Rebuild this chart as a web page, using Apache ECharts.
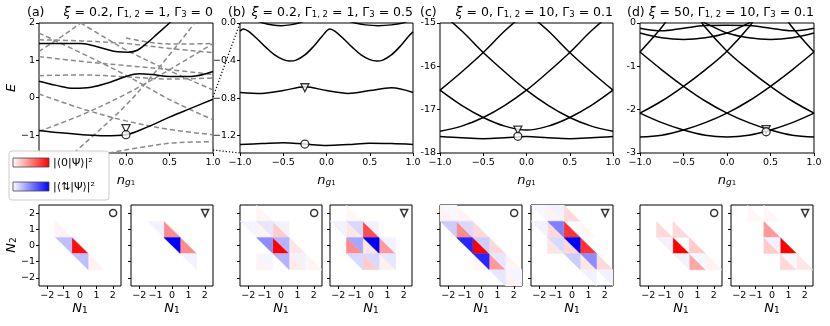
<!DOCTYPE html>
<html>
<head>
<meta charset="utf-8">
<script src="https://cdn.jsdelivr.net/npm/echarts@6/dist/echarts.min.js"></script>
<style>
  html, body { margin: 0; padding: 0; background: #fff; }
  #chart { width: 830px; height: 326px; }
</style>
</head>
<body>
<div id="chart"></div>
<script>
// ---- top row: energy bands vs n_g1 ----
// (a) xi=0.2, G12=1, G3=0 : solid = coupled bands, dashed = bare levels
const solidA = [
  [[-1, 1.45], [-0.75, 1.45], [-0.52, 1.45], [-0.25, 1.31], [-0.1, 1.23], [0.03, 1.22], [0.13, 1.27], [0.25, 1.48], [0.36, 1.71], [0.5, 2.0], [0.55, 2.12]],
  [[-1, 0.44], [-0.8, 0.33], [-0.6, 0.25], [-0.4, 0.28], [-0.2, 0.4], [0, 0.57], [0.15, 0.64], [0.3, 0.62], [0.5, 0.57], [0.75, 0.57], [1, 0.7]],
  [[-1, -0.875], [-0.75, -0.94], [-0.5, -0.99], [-0.25, -1.02], [0, -0.99], [0.25, -0.78], [0.5, -0.52], [0.75, -0.28], [1, -0.04]]
];
const dashedA = [
  [[-1, 1.24], [-0.75, 1.62], [-0.52, 2.0], [-0.4, 2.2]],
  [[-0.52, 2.0], [-0.25, 1.62], [0, 1.28], [0.5, 0.72], [1, 0.21]],
  [[-1, 1.73], [-0.5, 1.18], [0, 0.6], [0.5, -0.05], [1, -0.59]],
  [[-1, 0.1], [-0.5, -0.3], [0, -0.62], [0.5, -0.85], [1, -0.99]],
  [[-1, -0.9], [-0.5, -0.45], [0, 0.1], [0.5, 0.75], [1, 1.45]],
  [[-1, 0.59], [-0.5, 0.61], [0, 0.56], [0.5, 0.5], [1, 0.53]],
  [[-1, 1.1], [-0.5, 0.97], [0, 0.86], [0.5, 0.75], [1, 0.62]],
  [[-0.6, -1.48], [-0.25, -0.75], [0, -0.2], [0.25, 0.45], [0.5, 1.15], [0.7, 1.73], [0.8, 2.05]],
  [[0, 1.6], [0.25, 1.49], [0.5, 1.44], [0.75, 1.44], [1, 1.45]],
  [[-1, 1.55], [-0.5, 1.52], [0, 1.45], [0.5, 1.32], [1, 1.21]],
  [[-0.2, -1.48], [0.25, -1.3], [0.6, -1.2], [1, -1.18]]
];
// (b) xi=0.2, G12=1, G3=0.5
const solidB = [
  [[-1, 0.12], [-0.85, 0.04], [-0.73, 0], [-0.62, -0.022], [-0.52, -0.028], [-0.42, -0.02], [-0.32, 0], [-0.2, 0.04], [0, 0.1], [0.2, 0.04], [0.33, 0], [0.45, -0.02], [0.6, -0.028], [0.75, -0.02], [0.88, 0], [1, 0.04]],
  [[-1, -0.088], [-0.96, -0.064], [-0.9, -0.09], [-0.8, -0.17], [-0.7, -0.26], [-0.6, -0.34], [-0.5, -0.39], [-0.43, -0.405], [-0.35, -0.395], [-0.25, -0.34], [-0.15, -0.25], [-0.05, -0.14], [0.04, -0.064], [0.1, -0.09], [0.2, -0.17], [0.3, -0.26], [0.4, -0.34], [0.5, -0.39], [0.58, -0.405], [0.65, -0.395], [0.75, -0.34], [0.85, -0.25], [0.95, -0.14], [1, -0.095]],
  [[-1, -0.74], [-0.75, -0.75], [-0.5, -0.72], [-0.25, -0.68], [0, -0.72], [0.25, -0.75], [0.5, -0.72], [0.75, -0.69], [1, -0.74]],
  [[-1, -1.295], [-0.75, -1.285], [-0.5, -1.275], [-0.25, -1.29], [0, -1.305], [0.25, -1.295], [0.5, -1.28], [0.75, -1.285], [1, -1.295]]
];
// (c) xi=0, G12=10, G3=0.1
const solidC = [
  [[-1, -17.5], [-0.75, -17.38], [-0.5, -17.18], [-0.25, -16.9], [0, -16.55], [0.25, -16.13], [0.5, -15.68], [0.75, -15.18], [1, -14.75]],
  [[-1, -14.75], [-0.75, -15.18], [-0.5, -15.68], [-0.25, -16.13], [0, -16.55], [0.25, -16.9], [0.5, -17.18], [0.75, -17.38], [1, -17.5]],
  [[-1, -16.55], [-0.75, -16.9], [-0.5, -17.18], [-0.25, -17.38], [0, -17.47], [0.25, -17.38], [0.5, -17.18], [0.75, -16.9], [1, -16.55]],
  [[-1, -16.55], [-0.75, -16.13], [-0.5, -15.68], [-0.25, -15.18], [0, -14.75]],
  [[0, -14.75], [0.25, -15.18], [0.5, -15.68], [0.75, -16.13], [1, -16.55]],
  [[-1, -17.62], [-0.75, -17.65], [-0.5, -17.67], [-0.25, -17.65], [0, -17.62], [0.25, -17.65], [0.5, -17.67], [0.75, -17.65], [1, -17.62]]
];
// (d) xi=50, G12=10, G3=0.1
const solidD = [
  [[-1, -2.63], [-0.75, -2.59], [-0.5, -2.47], [-0.25, -2.3], [0, -2.08], [0.25, -1.8], [0.5, -1.46], [0.75, -1.08], [1, -0.67]],
  [[-1, -0.67], [-0.75, -1.08], [-0.5, -1.46], [-0.25, -1.8], [0, -2.08], [0.25, -2.3], [0.5, -2.47], [0.75, -2.59], [1, -2.63]],
  [[-1, -2.08], [-0.75, -2.3], [-0.5, -2.47], [-0.25, -2.59], [0, -2.63], [0.25, -2.59], [0.5, -2.47], [0.75, -2.3], [1, -2.08]],
  [[-1, -2.08], [-0.75, -1.8], [-0.5, -1.46], [-0.25, -1.08], [0, -0.65], [0.25, -0.1], [0.35, 0.2]],
  [[-0.35, 0.2], [-0.25, -0.1], [0, -0.65], [0.25, -1.08], [0.5, -1.46], [0.75, -1.8], [1, -2.08]],
  [[-1, -0.67], [-0.75, -0.1], [-0.65, 0.2]],
  [[0.65, 0.2], [0.75, -0.1], [1, -0.67]],
  [[-1, -0.23], [-0.75, -0.34], [-0.5, -0.38], [-0.25, -0.34], [0, -0.23], [0.2, -0.05], [0.3, 0.05]],
  [[-0.3, 0.05], [-0.2, -0.05], [0, -0.23], [0.25, -0.34], [0.5, -0.38], [0.75, -0.34], [1, -0.23]],
  [[-1, -0.12], [-0.75, -0.18], [-0.5, -0.12], [-0.25, -0.06], [0, -0.05], [0.25, -0.06], [0.5, -0.12], [0.75, -0.18], [1, -0.12]]
];
// highlighted states: circle = ground, triangle = first excited
const circlePts = [[0, -0.99], [-0.25, -1.29], [-0.1, -17.615], [0.45, -2.51]];
const trianglePts = [[0, -0.83], [-0.25, -0.69], [-0.1, -17.47], [0.45, -2.46]];

const xTicks = [-1, -0.5, 0, 0.5, 1];
const yTicks = [[-1, 0, 1, 2], [-1.2, -0.8, -0.4, 0], [-18, -17, -16, -15], [-3, -2, -1, 0]];
const yRanges = [[-1.48, 2], [-1.385, 0], [-18, -15], [-3, 0]];

// ---- bottom row: weights on charge grid (N1, N2, value) ----
// red = |<0|Psi>|^2 (lower-left half of cell), blue = |<updown|Psi>|^2 (upper-right half)
const redA_o = [[0, 0, 0.95], [-1, 1, 0.05], [1, -1, 0.05]];
const blueA_o = [[-1, 0, 0.25], [0, -1, 0.25]];
const redA_t = [[0, 1, 0.45], [1, 0, 0.45]];
const blueA_t = [[0, 0, 1.0], [-1, 1, 0.05], [1, -1, 0.05]];
const redB_o = [[0, 0, 1.0], [0, 1, 0.2], [1, 0, 0.1], [-1, 1, 0.05], [1, -1, 0.08], [-1, -1, 0.05], [-1, 2, 0.04], [2, -1, 0.04]];
const blueB_o = [[-1, 0, 0.45], [0, 0, 0.3], [0, -1, 0.3], [-1, 1, 0.1], [-2, 1, 0.04], [1, -1, 0.05], [0, 1, 0.05], [-1, -1, 0.04]];
const redB_t = [[0, 1, 0.7], [-1, 0, 0.45], [1, 0, 0.4], [0, -1, 0.2], [-1, 1, 0.1], [0, 0, 0.1], [1, -1, 0.06], [-1, 2, 0.03]];
const blueB_t = [[0, 0, 1.0], [-1, 0, 0.35], [-1, 1, 0.15], [0, -1, 0.15], [-1, -1, 0.15], [1, -1, 0.1], [-2, 1, 0.05], [0, 1, 0.05], [1, 0, 0.05]];
const redC_o = [[0, 0, 1.0], [-1, 1, 0.45], [1, -1, 0.4], [0, 1, 0.15], [1, 0, 0.15], [-2, 2, 0.05], [-1, 2, 0.05], [2, -2, 0.05], [2, -1, 0.04], [0, -1, 0.03]];
const blueC_o = [[-1, 0, 0.85], [0, -1, 0.85], [-1, 1, 0.15], [-2, 1, 0.2], [0, 0, 0.2], [1, -1, 0.1], [1, -2, 0.1], [-2, 2, 0.03], [2, -2, 0.04]];
const redC_t = [[0, 1, 0.8], [1, 0, 0.8], [-1, 1, 0.15], [0, 0, 0.15], [-1, 0, 0.1], [0, 2, 0.15], [1, -1, 0.1], [2, -1, 0.15], [-1, 2, 0.05], [1, 1, 0.03]];
const blueC_t = [[0, 0, 1.0], [-1, 1, 0.5], [1, -1, 0.45], [-1, 0, 0.15], [0, -1, 0.2], [-2, 1, 0.05], [-1, 2, 0.05], [2, -2, 0.05], [1, -2, 0.05], [-2, 2, 0.03]];
const redD_o = [[0, 0, 1.0], [-1, 1, 0.15], [0, 1, 0.15], [1, 0, 0.2], [1, -1, 0.35], [2, -1, 0.05]];
const blueD_o = [[0, -1, 0.05], [-1, 0, 0.05], [1, -1, 0.03]];
const redD_t = [[1, 0, 1.0], [0, 1, 0.4], [0, 0, 0.2], [1, -1, 0.15], [2, -1, 0.1], [-1, 2, 0.03], [0, 2, 0.03]];
const blueD_t = [[0, 0, 0.05], [1, -1, 0.03]];
const heatPanels = [
  [redA_o, blueA_o], [redA_t, blueA_t], [redB_o, blueB_o], [redB_t, blueB_t],
  [redC_o, blueC_o], [redC_t, blueC_t], [redD_o, blueD_o], [redD_t, blueD_t]
];
const nTicks = [-2, -1, 0, 1, 2];
const cornerMark = [2.02, 2.0];

// ---- layout ----
const topLefts = [39, 240, 440, 640];
const topWidths = [174, 173, 173, 174];
const botLefts = [39, 131, 240, 330, 440, 531, 640, 731];
const FONT = 'DejaVu Sans';
const minus = '\u2212';

function fmt(v, dec, m) {
  const s = Math.abs(v).toFixed(dec);
  return (v < -1e-9 ? m : '') + s;
}

const grids = [], xAxes = [], yAxes = [], series = [];
const yDec = [0, 1, 0, 0];
const yMinus = [minus, minus, '-', '-'];

const subRich = {
  i: { fontFamily: FONT, fontStyle: 'italic', fontSize: 13, color: '#000' },
  s: { fontFamily: FONT, fontStyle: 'italic', fontSize: 9, color: '#000', verticalAlign: 'bottom', lineHeight: 8 },
  ss: { fontFamily: FONT, fontSize: 7, color: '#000', verticalAlign: 'bottom', lineHeight: 4 },
  n: { fontFamily: FONT, fontSize: 9, color: '#000', verticalAlign: 'bottom', lineHeight: 8 }
};
const noLine = { show: false, onZero: false };

for (let i = 0; i < 4; i++) {
  grids.push({ left: topLefts[i], top: 23, width: topWidths[i], height: 130, show: true, borderColor: '#000', borderWidth: 1, backgroundColor: 'transparent' });
  xAxes.push({
    type: 'value', gridIndex: i, min: -1, max: 1,
    axisLine: noLine,
    axisTick: { show: true, length: 3, lineStyle: { color: '#000' }, customValues: xTicks },
    axisLabel: { customValues: xTicks, formatter: v => fmt(v, 1, minus), fontFamily: FONT, fontSize: 9.5, color: '#000', margin: 5 },
    splitLine: { show: false },
    name: '{i|n}{s|g}{ss|1}', nameLocation: 'middle', nameGap: 21,
    nameTextStyle: { rich: subRich, fontSize: 13 }
  });
  yAxes.push({
    type: 'value', gridIndex: i, min: yRanges[i][0], max: yRanges[i][1],
    axisLine: noLine,
    axisTick: { show: true, length: 3, lineStyle: { color: '#000' }, customValues: yTicks[i] },
    axisLabel: { customValues: yTicks[i], formatter: v => fmt(v, yDec[i], yMinus[i]), fontFamily: FONT, fontSize: 9.5, color: '#000', margin: 4 },
    splitLine: { show: false }
  });
}

for (let k = 0; k < 8; k++) {
  const gi = 4 + k;
  grids.push({ left: botLefts[k], top: 205, width: 82, height: 81, show: true, borderColor: '#000', borderWidth: 1, backgroundColor: 'transparent' });
  xAxes.push({
    type: 'value', gridIndex: gi, min: -2.5, max: 2.5,
    axisLine: noLine,
    axisTick: { show: true, length: 3, lineStyle: { color: '#000' }, customValues: nTicks },
    axisLabel: { customValues: nTicks, formatter: v => fmt(v, 0, minus), fontFamily: FONT, fontSize: 9.5, color: '#000', margin: 5 },
    splitLine: { show: false },
    name: '{i|N}{n|1}', nameLocation: 'middle', nameGap: 16,
    nameTextStyle: { rich: subRich, fontSize: 13 }
  });
  yAxes.push({
    type: 'value', gridIndex: gi, min: -2.5, max: 2.5,
    axisLine: noLine,
    axisTick: { show: true, length: 3, lineStyle: { color: '#000' }, customValues: nTicks },
    axisLabel: { show: k === 0, customValues: nTicks, formatter: v => fmt(v, 0, minus), fontFamily: FONT, fontSize: 9.5, color: '#000', margin: 4 },
    splitLine: { show: false }
  });
}

// band lines
function addLines(list, idx, color, dashed) {
  list.forEach(c => series.push({
    type: 'line', xAxisIndex: idx, yAxisIndex: idx, data: c,
    showSymbol: false, smooth: 0.35, silent: true, z: dashed ? 2 : 3,
    lineStyle: { color: color, width: 1.5, type: dashed ? [5, 3] : 'solid' }
  }));
}
addLines(dashedA, 0, '#8a8a8a', true);
addLines(solidA, 0, '#000', false);
addLines(solidB, 1, '#000', false);
addLines(solidC, 2, '#000', false);
addLines(solidD, 3, '#000', false);

for (let i = 0; i < 4; i++) {
  series.push({
    type: 'scatter', xAxisIndex: i, yAxisIndex: i, data: [trianglePts[i]], symbol: 'triangle', symbolRotate: 180, symbolSize: 8,
    itemStyle: { color: '#fff', borderColor: '#000', borderWidth: 1.3 }, z: 5, silent: true
  });
  series.push({
    type: 'scatter', xAxisIndex: i, yAxisIndex: i, data: [circlePts[i]], symbol: 'circle', symbolSize: 8,
    itemStyle: { color: '#fff', borderColor: '#000', borderWidth: 1.3 }, z: 6, silent: true
  });
}

// triangles in each charge cell
function triRender(kind) {
  return function (params, api) {
    const n1 = api.value(0), n2 = api.value(1), v = api.value(2);
    const tl = api.coord([n1 - 0.5, n2 + 0.5]);
    const bl = api.coord([n1 - 0.5, n2 - 0.5]);
    const br = api.coord([n1 + 0.5, n2 - 0.5]);
    const tr = api.coord([n1 + 0.5, n2 + 0.5]);
    const c = Math.round(255 * (1 - v));
    const fill = kind === 'red' ? 'rgb(255,' + c + ',' + c + ')' : 'rgb(' + c + ',' + c + ',255)';
    return {
      type: 'polygon',
      shape: { points: kind === 'red' ? [tl, bl, br] : [tl, tr, br] },
      style: { fill: fill, stroke: fill, lineWidth: 0.4 }
    };
  };
}
heatPanels.forEach((p, k) => {
  const gi = 4 + k;
  series.push({ type: 'custom', xAxisIndex: gi, yAxisIndex: gi, data: p[0], renderItem: triRender('red'), silent: true, clip: true });
  series.push({ type: 'custom', xAxisIndex: gi, yAxisIndex: gi, data: p[1], renderItem: triRender('blue'), silent: true, clip: true });
  series.push({
    type: 'scatter', xAxisIndex: gi, yAxisIndex: gi, data: [cornerMark],
    symbol: k % 2 === 0 ? 'circle' : 'triangle', symbolRotate: k % 2 === 0 ? 0 : 180, symbolSize: 7,
    itemStyle: { color: '#fff', borderColor: '#000', borderWidth: 1.5 }, z: 5, silent: true
  });
});

// ---- titles, labels, colour legend ----
const titleRich = {
  t: { fontFamily: FONT, fontSize: 12.5, color: '#000' },
  i: { fontFamily: FONT, fontStyle: 'italic', fontSize: 12.5, color: '#000' },
  s: { fontFamily: FONT, fontSize: 8.5, color: '#000', verticalAlign: 'bottom', lineHeight: 9 }
};
const panelTags = ['(a)', '(b)', '(c)', '(d)'];
const panelTitles = [
  '{i|ξ}{t| = 0.2, Γ}{s|1, 2}{t| = 1, Γ}{s|3}{t| = 0}',
  '{i|ξ}{t| = 0.2, Γ}{s|1, 2}{t| = 1, Γ}{s|3}{t| = 0.5}',
  '{i|ξ}{t| = 0, Γ}{s|1, 2}{t| = 10, Γ}{s|3}{t| = 0.1}',
  '{i|ξ}{t| = 50, Γ}{s|1, 2}{t| = 10, Γ}{s|3}{t| = 0.1}'
];
const tagX = [27, 228, 420, 627];
const graphics = [];
for (let i = 0; i < 4; i++) {
  graphics.push({ type: 'text', x: tagX[i], y: 13, style: { text: panelTags[i], font: '12.5px "DejaVu Sans"', fill: '#000', verticalAlign: 'middle' } });
  graphics.push({ type: 'text', x: topLefts[i] + topWidths[i], y: 13, style: { text: panelTitles[i], rich: titleRich, align: 'right', verticalAlign: 'middle' } });
}
graphics.push({ type: 'text', x: 12, y: 88, rotation: Math.PI / 2, style: { text: 'E', font: 'italic 13px "DejaVu Sans"', fill: '#000', align: 'center', verticalAlign: 'middle' } });
graphics.push({ type: 'text', x: 12, y: 245, rotation: Math.PI / 2, style: { text: '{i|N}{n|2}', rich: subRich, align: 'center', verticalAlign: 'middle' } });
// zoom guide lines between (a) and (b)
graphics.push({ type: 'line', shape: { x1: 213, y1: 97, x2: 240, y2: 23 }, style: { stroke: '#000', lineWidth: 1.2, lineDash: [1.2, 2] }, z: 10 });
graphics.push({ type: 'line', shape: { x1: 213, y1: 150, x2: 240, y2: 153 }, style: { stroke: '#000', lineWidth: 1.2, lineDash: [1.2, 2] }, z: 10 });
// colour legend
graphics.push({ type: 'rect', shape: { x: 9, y: 151, width: 100, height: 49, r: 3 }, style: { fill: 'rgba(255,255,255,0.95)', stroke: '#ccc', lineWidth: 1 }, z: 100 });
graphics.push({
  type: 'rect', shape: { x: 13, y: 158, width: 36, height: 9 }, z: 101,
  style: { fill: new echarts.graphic.LinearGradient(0, 0, 1, 0, [{ offset: 0, color: '#fff' }, { offset: 1, color: '#f00' }]), stroke: '#444', lineWidth: 0.8 }
});
graphics.push({
  type: 'rect', shape: { x: 13, y: 182, width: 36, height: 9 }, z: 101,
  style: { fill: new echarts.graphic.LinearGradient(0, 0, 1, 0, [{ offset: 0, color: '#fff' }, { offset: 1, color: '#00f' }]), stroke: '#444', lineWidth: 0.8 }
});
graphics.push({ type: 'text', x: 53, y: 163, z: 101, style: { text: '|⟨0|Ψ⟩|²', font: '11px "DejaVu Sans"', fill: '#000', verticalAlign: 'middle' } });
graphics.push({ type: 'text', x: 53, y: 187, z: 101, style: { text: '|⟨⇅|Ψ⟩|²', font: '11px "DejaVu Sans"', fill: '#000', verticalAlign: 'middle' } });

const chart = echarts.init(document.getElementById('chart'), null, { renderer: 'canvas' });
chart.setOption({
  animation: false,
  backgroundColor: '#fff',
  grid: grids,
  xAxis: xAxes,
  yAxis: yAxes,
  series: series,
  graphic: { elements: graphics }
});
</script>
</body>
</html>
